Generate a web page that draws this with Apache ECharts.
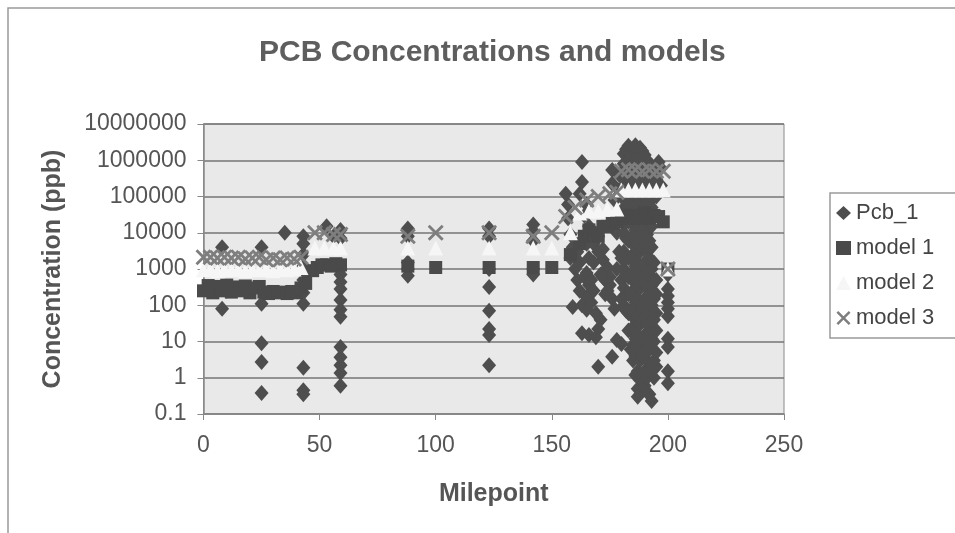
<!DOCTYPE html>
<html><head><meta charset="utf-8">
<script src="https://cdn.jsdelivr.net/npm/echarts@6/dist/echarts.min.js"></script>
<style>html,body{margin:0;padding:0;background:#fff}#c{width:955px;height:533px}</style>
</head><body><div id="c"></div>
<script>
const chartTitle = 'PCB Concentrations and models';
const xTitle = 'Milepoint';
const yTitle = 'Concentration (ppb)';
const seriesNames = ['Pcb_1', 'model 1', 'model 2', 'model 3'];
const xMin = 0, xMax = 250, xStep = 50;
const yMin = 0.1, yMax = 10000000;

// Pcb_1 observations [milepoint, concentration]
const pcb1 = [
  [8,4000],[8,80],[10,250],[25,4000],[25,110],[25,9],[25,2.7],[25,0.38],[35,10000],
  [43,8000],[43,5000],[43,2500],[43,1200],[43,500],[43,220],[43,110],[43,1.9],[43,0.45],[43,0.35],
  [53,15000],[56,8000],[59,12000],[59,7000],[59,1000],[59,700],[59,440],[59,280],[59,140],[59,75],[59,48],
  [59,7],[59,3.7],[59,2.2],[59,1.35],[59,0.6],
  [88,13000],[88,8000],[88,1500],[88,1000],[88,650],
  [123,13000],[123,8000],[123,1000],[123,320],[123,70],[123,22],[123,15],[123,2.2],
  [142,17000],[142,11000],[142,6000],[142,1000],[142,700],
  [156,120000],[157,60000],[157,25000],[158,9000],[159,4000],[158,2000],[160,1000],[159,90],
  [163,900000],[163,250000],[162,120000],[165,60000],[164,30000],[166,15000],[165,5000],[166,2000],
  [165,780],[166,360],[165,170],[163,100],[165,75],[163,17],[166,15],[170,22],[169,13],[170,2],
  [168,5000],[170,3000],[172,3500],[172,1800],[174,1100],[175,600],[175,360],[173,200],
  [161,3000],[162,1500],[164,600],[167,500],[168,250],[167,120],[169,60],[171,40],[168,1500],[171,700],
  [173,500],[174,250],[176,150],[177,80],[161,500],[162,250],[170,8000],[172,600],
  [176,540000],[176,230000],[177,80000],[178,30000],[178,10000],[179,3000],[178,1000],[176,3.8],[178,11],[180,8.5],
  [179,400000],[179,150000],[180,40000],[180,2000],[180,500],[180,150],
  [181,1500000],[181,800000],[181,300000],[181,100000],[181,30000],[181,10000],[181,3000],[181,1000],[181,300],[181,100],
  [182,2000000],[182,600000],[182,200000],[182,70000],[182,20000],[182,7000],[182,2000],[182,700],[182,200],[182,70],
  [183,2500000],[183,1000000],[183,400000],[183,150000],[183,50000],[183,20000],[183,6000],[183,2000],[183,600],[183,200],[183,60],[183,20],
  [184,1500000],[184,500000],[184,180000],[184,60000],[184,20000],[184,7000],[184,2000],[184,700],[184,200],[184,70],[184,20],[184,6],
  [185,2000000],[185,700000],[185,250000],[185,80000],[185,25000],[185,8000],[185,2500],[185,800],[185,250],[185,80],[185,25],[185,8],[185,3],
  [186,2600000],[186,1000000],[186,350000],[186,120000],[186,40000],[186,12000],[186,4000],[186,1200],[186,400],[186,120],[186,40],[186,12],[186,4],[186,1.2],
  [187,1200000],[187,500000],[187,200000],[187,60000],[187,18000],[187,5000],[187,1500],[187,500],[187,150],[187,50],[187,15],[187,5],[187,1.5],[187,0.5],[187,0.3],
  [188,2200000],[188,800000],[188,300000],[188,90000],[188,30000],[188,9000],[188,3000],[188,900],[188,300],[188,90],[188,30],[188,9],[188,3],[188,0.9],
  [189,1800000],[189,600000],[189,120000],[189,40000],[189,12000],[189,4000],[189,1200],[189,400],[189,120],[189,40],[189,12],[189,4],[189,1.2],[189,0.8],
  [190,1400000],[190,450000],[190,150000],[190,50000],[190,15000],[190,5000],[190,1500],[190,500],[190,150],[190,50],[190,15],[190,5],[190,1.5],[190,0.6],
  [191,1000000],[191,300000],[191,90000],[191,30000],[191,9000],[191,3000],[191,900],[191,300],[191,90],[191,30],[191,9],[191,3],[191,1],[191,0.4],
  [192,800000],[192,250000],[192,70000],[192,20000],[192,6000],[192,2000],[192,600],[192,180],[192,60],[192,18],[192,6],[192,1.8],[192,0.35],
  [193,700000],[193,200000],[193,50000],[193,15000],[193,4000],[193,1000],[193,350],[193,100],[193,35],[193,12],[193,2],[193,0.23],
  [194,400000],[194,150000],[194,1500],[194,500],[194,150],[194,40],[194,10],[194,3],[194,1],
  [195,300000],[195,100000],[195,500],[195,200],[195,60],[195,20],[195,5],[195,2],
  [196,900000],[197,600000],[197,200000],
  [200,700],[200,280],[200,180],[200,120],[200,80],[200,50],[200,12],[200,7],[200,1.5],[200,0.7]
];

// model 1 [milepoint, concentration]
const model1 = [
  [0,250],[2,350],[4,220],[6,330],[8,250],[10,360],[12,230],[14,320],[16,250],[18,340],[20,220],
  [22,300],[24,330],[26,230],[28,210],[30,240],[32,220],[34,230],[36,210],[38,240],[40,220],[42,300],[44,400],
  [47,900],[49,1100],[51,1300],[53,1300],[55,1200],[57,1400],[59,1300],
  [88,1200],[100,1100],[123,1100],[142,1100],[150,1100],
  [158,2500],[162,5000],[164,8000],[166,12000],[168,10000],[170,8000],[172,15000],[174,15000],[176,18000],[178,20000],
  [180,25000],[182,30000],[184,28000],[186,25000],[188,30000],[190,35000],[192,25000],[194,30000],[196,28000],[198,20000],
  [200,1000]
];

// model 2 [milepoint, concentration]
const model2 = [
  [0,950],[3,1000],[6,900],[9,1000],[12,950],[15,1000],[18,900],[21,1000],[24,950],[27,1000],[30,900],[33,1000],[36,950],[39,1000],[42,1100],
  [48,3800],[52,3800],[56,3800],[59,3800],
  [88,3800],[100,3800],[123,3800],[142,3800],[150,3800],
  [158,10000],[162,35000],[166,40000],[170,40000],[174,45000],[178,45000],
  [180,150000],[183,150000],[186,150000],[189,150000],[192,150000],[195,150000],[198,150000],
  [200,1000]
];

// model 3 [milepoint, concentration]
const model3 = [
  [0,2100],[3,2100],[6,2000],[9,2100],[12,2000],[15,2100],[18,1900],[21,2000],[24,2100],[27,1800],[30,2000],[33,1800],[36,2000],[39,1900],[42,2100],
  [48,10000],[52,10000],[56,9000],[59,9000],
  [88,8000],[100,10000],[123,10000],[142,8000],[150,10000],
  [156,28000],[160,50000],[165,80000],[170,100000],[175,120000],[178,130000],
  [180,500000],[183,550000],[186,550000],[189,500000],[192,550000],[195,500000],[198,500000],
  [200,1000]
];

const FONT = 'Liberation Sans, Arial, sans-serif';
const crossPath = 'path://M0,1.5L1.5,0L6,4.5L10.5,0L12,1.5L7.5,6L12,10.5L10.5,12L6,7.5L1.5,12L0,10.5L4.5,6Z';

const chart = echarts.init(document.getElementById('c'), null, {renderer: 'canvas'});
chart.setOption({
  backgroundColor: '#ffffff',
  animation: false,
  graphic: [{
    type: 'rect', silent: true, z: -10,
    shape: {x: 8, y: 8, width: 1000, height: 600},
    style: {fill: 'none', stroke: '#9a9a9a', lineWidth: 1.5}
  }],
  title: {
    text: chartTitle, left: 254, top: 33,
    textStyle: {fontFamily: FONT, fontSize: 30, fontWeight: 'bold', color: '#5e5e5e'}
  },
  legend: {
    orient: 'vertical', left: 830, top: 193,
    backgroundColor: '#ffffff', borderColor: '#9a9a9a', borderWidth: 1.5,
    padding: [9, 40, 9, 6], itemGap: 13, itemWidth: 15, itemHeight: 14,
    textStyle: {fontFamily: FONT, fontSize: 22, lineHeight: 22, color: '#444'},
    data: seriesNames
  },
  grid: {
    left: 203.5, right: 171, top: 124, bottom: 119,
    show: true, backgroundColor: '#e9e9e9', borderColor: '#8a8a8a', borderWidth: 1
  },
  xAxis: {
    type: 'value', min: xMin, max: xMax, interval: xStep,
    name: xTitle, nameLocation: 'middle', nameGap: 68,
    nameTextStyle: {fontFamily: FONT, fontSize: 25, fontWeight: 'bold', color: '#555'},
    axisLine: {show: true, lineStyle: {color: '#888', width: 1.5}},
    axisTick: {show: true, inside: false, length: 6, lineStyle: {color: '#888'}},
    axisLabel: {margin: 20, fontFamily: FONT, fontSize: 23, color: '#555'},
    splitLine: {show: false}
  },
  yAxis: {
    type: 'log', logBase: 10, min: yMin, max: yMax, splitNumber: 8,
    name: yTitle, nameLocation: 'middle', nameGap: 138,
    nameTextStyle: {fontFamily: FONT, fontSize: 25, fontWeight: 'bold', color: '#555'},
    axisLine: {show: true, lineStyle: {color: '#888', width: 1.5}},
    axisTick: {show: true, inside: false, length: 6, lineStyle: {color: '#888'}},
    axisLabel: {
      margin: 17, fontFamily: FONT, fontSize: 23, color: '#555',
      formatter: v => (v < 1 ? v.toFixed(1) : String(Math.round(v)))
    },
    splitLine: {show: true, lineStyle: {color: '#747474', width: 1.5}}
  },
  series: [
    {name: seriesNames[0], type: 'scatter', data: pcb1, symbol: 'diamond', symbolSize: [14, 16],
     itemStyle: {color: '#4e4e4e', opacity: 1}},
    {name: seriesNames[1], type: 'scatter', data: model1, symbol: 'rect', symbolSize: 13,
     itemStyle: {color: '#4a4a4a', opacity: 1}},
    {name: seriesNames[2], type: 'scatter', data: model2, symbol: 'triangle', symbolSize: 15,
     itemStyle: {color: '#f6f6f6', opacity: 1}},
    {name: seriesNames[3], type: 'scatter', data: model3, symbol: crossPath, symbolSize: 16,
     itemStyle: {color: '#7e7e7e', opacity: 1}}
  ]
});
</script>
</body></html>
